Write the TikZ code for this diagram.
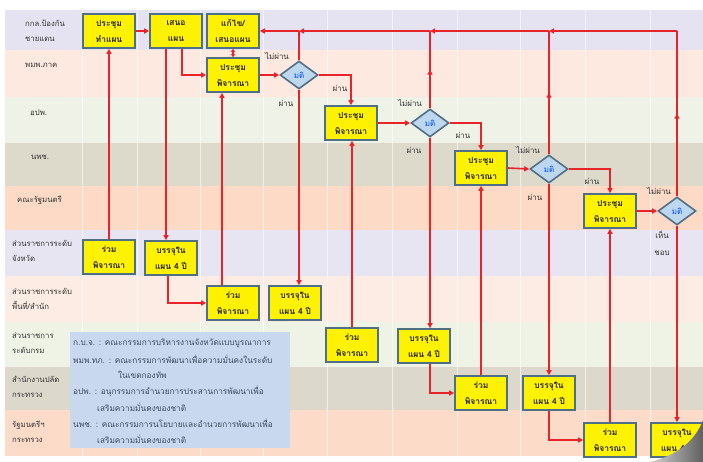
\documentclass[tikz,border=0pt]{standalone}
\usepackage{fontspec}
\setmainfont{Liberation Sans}
\newfontfamily\thai[Script=Thai]{Loma}
\usetikzlibrary{shapes.geometric,arrows.meta,decorations.markings}
\definecolor{boxb}{HTML}{4F6F86}
\definecolor{diab}{HTML}{BDD7EE}
\definecolor{lred}{HTML}{E8232A}
\definecolor{legb}{HTML}{C8D8EE}
\definecolor{txt}{HTML}{333333}
\definecolor{legtxt}{HTML}{3B4A5E}
\definecolor{rowA}{HTML}{E5E3F1}
\definecolor{rowB}{HTML}{FDE9DF}
\definecolor{rowC}{HTML}{EFF3E7}
\definecolor{rowD}{HTML}{DDD9CB}
\definecolor{rowE}{HTML}{FCDAC6}
\definecolor{rowF}{HTML}{E6E5F1}
\definecolor{rowG}{HTML}{FDECE3}
\definecolor{rowH}{HTML}{EEF3E6}
\definecolor{rowI}{HTML}{DCD8CB}
\definecolor{rowJ}{HTML}{FCDCC9}
\begin{document}
\begin{tikzpicture}[x=1bp,y=-1bp,
 box/.style={draw=boxb,fill=yellow,line width=1.6bp,minimum width=52bp,minimum height=34bp,inner sep=0pt,align=center,font=\thai\bfseries\fontsize{8.5}{16}\selectfont,text=black!85},
 dia/.style={diamond,draw=boxb,fill=diab,line width=1.6bp,minimum width=38bp,minimum height=28bp,inner sep=0pt,font=\thai\fontsize{8}{9}\selectfont,text=blue!70!cyan},
 flow/.style={lred,line width=1.6bp,-{Triangle[length=5bp,width=5bp]}},
 both/.style={lred,line width=1.6bp,{Triangle[length=3bp,width=4bp]}-{Triangle[length=3bp,width=4bp]}},
 plain/.style={lred,line width=1.6bp},
 midarrow/.style={postaction={decorate},decoration={markings,mark=at position 0.5 with {\arrow{Triangle[length=5bp,width=5bp]}}}},
 lab/.style={font=\thai\fontsize{8}{9}\selectfont,text=txt,inner sep=0pt},
 rowlab/.style={font=\thai\fontsize{7.8}{15}\selectfont,text=txt,align=left,inner sep=0pt,anchor=west},
 legt/.style={font=\thai\fontsize{8.3}{9}\selectfont,text=legtxt,inner sep=0pt,anchor=west}
]
\useasboundingbox (0,0) rectangle (703,462);
\fill[white] (0,0) rectangle (703,462);
% rows
\fill[rowA] (5,10) rectangle (703,50);
\fill[rowB] (5,50) rectangle (703,97);
\fill[rowC] (5,97) rectangle (703,143);
\fill[rowD] (5,143) rectangle (703,186);
\fill[rowE] (5,186) rectangle (703,230);
\fill[rowF] (5,230) rectangle (703,276);
\fill[rowG] (5,276) rectangle (703,322);
\fill[rowH] (5,322) rectangle (703,367);
\fill[rowI] (5,367) rectangle (703,410);
\fill[rowJ] (5,410) rectangle (703,456);
\foreach \x in {82,137,200,263,327,392,457,520,585,650}
  \draw[white,opacity=0.6,line width=0.6bp] (\x,10) -- (\x,456);
% row labels
\node[rowlab] (l1) at (25,31) {กกล.ป้องกัน\\ชายแดน};
\node[rowlab] (l2) at (25,65) {พมพ.ภาค};
\node[rowlab] (l3) at (30,113) {อปพ.};
\node[rowlab] (l4) at (31,157) {นพช.};
\node[rowlab] (l5) at (17,200) {คณะรัฐมนตรี};
\node[rowlab] (l6) at (12,251) {ส่วนราชการระดับ\\จังหวัด};
\node[rowlab] (l7) at (12,299) {ส่วนราชการระดับ\\พื้นที่/สำนัก};
\node[rowlab] (l8) at (12,343) {ส่วนราชการ\\ระดับกรม};
\node[rowlab] (l9) at (12,387) {สำนักงานปลัด\\กระทรวง};
\node[rowlab] (l10) at (12,432) {รัฐมนตรีฯ\\กระทรวง};
% legend
\node[fill=legb,minimum width=220bp,minimum height=116bp,anchor=north west,inner sep=0pt] (legend) at (70,332) {};
\node[legt] (g1) at (73,343) {ก.บ.จ. : คณะกรรมการบริหารงานจังหวัดแบบบูรณาการ};
\node[legt] (g2) at (73,359) {พมพ.ทภ. : คณะกรรมการพัฒนาเพื่อความมั่นคงในระดับ};
\node[legt] (g3) at (118,375) {ในเขตกองทัพ};
\node[legt] (g4) at (73,391) {อปพ. : อนุกรรมการอำนวยการประสานการพัฒนาเพื่อ};
\node[legt] (g5) at (97,407) {เสริมความมั่นคงของชาติ};
\node[legt] (g6) at (73,423) {นพช. : คณะกรรมการนโยบายและอำนวยการพัฒนาเพื่อ};
\node[legt] (g7) at (97,439) {เสริมความมั่นคงของชาติ};
% main boxes
\node[box] (n1) at (109,31) {ประชุม\\ทำแผน};
\node[box] (n2) at (176,31) {เสนอ\\แผน};
\node[box] (n3) at (233,31) {แก้ไข/\\เสนอแผน};
\node[box] (n4) at (233,75) {ประชุม\\พิจารณา};
\node[dia] (d1) at (299,75) {มติ};
\node[box] (n5) at (351,123) {ประชุม\\พิจารณา};
\node[dia] (d2) at (430,123) {มติ};
\node[box] (n6) at (481,168) {ประชุม\\พิจารณา};
\node[dia] (d3) at (549,169) {มติ};
\node[box] (n7) at (610,211) {ประชุม\\พิจารณา};
\node[dia] (d4) at (677,211) {มติ};
% lower boxes
\node[box] (r6a) at (109,257) {ร่วม\\พิจารณา};
\node[box] (r6b) at (171,258) {บรรจุใน\\แผน 4 ปี};
\node[box] (r7a) at (233,303) {ร่วม\\พิจารณา};
\node[box] (r7b) at (295,303) {บรรจุใน\\แผน 4 ปี};
\node[box] (r8a) at (352,345) {ร่วม\\พิจารณา};
\node[box] (r8b) at (424,346) {บรรจุใน\\แผน 4 ปี};
\node[box] (r9a) at (481,393) {ร่วม\\พิจารณา};
\node[box] (r9b) at (549,393) {บรรจุใน\\แผน 4 ปี};
\node[box] (r10a) at (610,440) {ร่วม\\พิจารณา};
\node[box] (r10b) at (677,440) {บรรจุใน\\แผน 4 ปี};
% helper coordinates
\coordinate (xa) at (166,0);
\coordinate (xb) at (182,0);
\coordinate (xc) at (168,0);
\coordinate (xd) at (222,0);
\coordinate (j1) at (d1.north |- n3.east);
\coordinate (j2) at (d2.north |- n3.east);
\coordinate (j3) at (d3.north |- n3.east);
\coordinate (j4) at (d4.north |- n3.east);
% connectors
\draw[flow] (n1.east) -- (n2.west);
\draw[flow] (n2.south -| xa) -- (xa |- r6b.north);
\draw[flow] (n2.south -| xb) |- (n4.west);
\draw[both] (n3.south) -- (n4.north);
\draw[flow] (r6a.north) -- (r6a.north |- n1.south);
\draw[flow] (r6b.south -| xc) |- (r7a.west);
\draw[flow] (r7a.north -| xd) -- (n4.south -| xd);
\draw[flow] (n4.east) -- (d1.west);
\draw[plain] (d1.north) -- (j1);
\draw[flow] (j1) -- (n3.east);
\draw[flow] (d1.east) -| (n5.north);
\draw[flow] (d1.south) -- (d1.south |- r7b.north);
\draw[flow] (r8a.north) -- (r8a.north |- n5.south);
\draw[flow] (n5.east) -- (d2.west);
\draw[plain,midarrow] (d2.north) -- (j2);
\draw[flow] (j2) -- (j1);
\draw[flow] (d2.east) -| (n6.north);
\draw[flow] (d2.south) -- (d2.south |- r8b.north);
\draw[flow] (r8b.south -| d2.south) |- (r9a.west);
\draw[flow] (r9a.north) -- (r9a.north |- n6.south);
\draw[flow] (n6.east) -- (d3.west);
\draw[plain,midarrow] (d3.north) -- (j3);
\draw[flow] (j3) -- (j2);
\draw[flow] (d3.east) -| (n7.north);
\draw[flow] (d3.south) -- (d3.south |- r9b.north);
\draw[flow] (r9b.south -| d3.south) |- (r10a.west);
\draw[flow] (r10a.north) -- (r10a.north |- n7.south);
\draw[flow] (n7.east) -- (d4.west);
\draw[plain,midarrow] (d4.north) -- (j4);
\draw[flow] (j4) -- (j3);
\draw[flow] (d4.south) -- (d4.south |- r10b.north);
% connector labels
\node[lab] (t1) at (277,56) {ไม่ผ่าน};
\node[lab] (t2) at (340,88) {ผ่าน};
\node[lab] (t3) at (286,103) {ผ่าน};
\node[lab] (t4) at (410,103) {ไม่ผ่าน};
\node[lab] (t5) at (463,135) {ผ่าน};
\node[lab] (t6) at (414,150) {ผ่าน};
\node[lab] (t7) at (528,150) {ไม่ผ่าน};
\node[lab] (t8) at (592,181) {ผ่าน};
\node[lab] (t9) at (535,197) {ผ่าน};
\node[lab] (t10) at (659,191) {ไม่ผ่าน};
\node[lab,align=center,font=\thai\fontsize{8}{17}\selectfont] (t11) at (662,243) {เห็น\\ชอบ};
% page curl
\shade[left color=gray!35,right color=gray!75!black] (703,420) .. controls (695,442) and (675,456) .. (650,462) -- (703,462) -- cycle;
\end{tikzpicture}
\end{document}
